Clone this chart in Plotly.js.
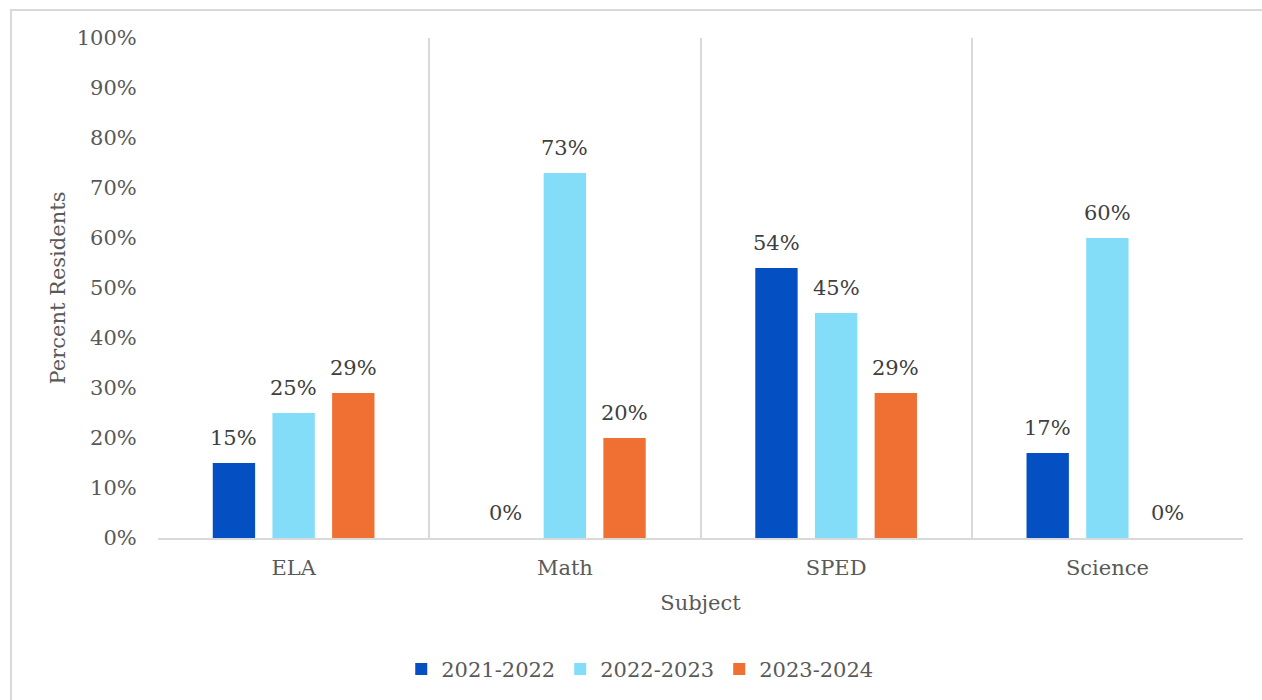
<!DOCTYPE html>
<html><head><meta charset="utf-8">
<script src="https://cdn.plot.ly/plotly-3.0.1.min.js"></script>
<style>
html,body{margin:0;padding:0;background:#fff;overflow:hidden;}
#frame{position:absolute;left:10px;top:9px;width:1262px;height:700px;border:2px solid #d9d9d9;box-sizing:border-box;}
#chart{position:absolute;left:0;top:0;width:1262px;height:700px;}
</style></head>
<body>
<div id="frame"></div>
<div id="chart"></div>
<script>
const subjects = ["ELA", "Math", "SPED", "Science"];
const series = ["2021-2022", "2022-2023", "2023-2024"];
const v2122 = [0.15, 0.00, 0.54, 0.17];
const v2223 = [0.25, 0.73, 0.45, 0.60];
const v2324 = [0.29, 0.20, 0.29, 0.00];
const colors = ["#0450C2", "#83DDF9", "#F07034"];
const yTicks = [0,0.1,0.2,0.3,0.4,0.5,0.6,0.7,0.8,0.9,1.0];

const FONT = "Georgia, 'DejaVu Serif', serif";
const TXT = "#595959";
const FS = 21;
const vals = [v2122, v2223, v2324];
const BARGAP = 0.34;
const traces = series.map((name, i) => ({
  type: "bar", name: name, x: subjects, y: vals[i],
  marker: {color: colors[i]},
  hoverinfo: "none"
}));

// data labels placed above each bar, positioned via the axis scales
const slot = (1 - BARGAP) / series.length;
const annotations = [];
vals.forEach((arr, i) => {
  arr.forEach((v, j) => {
    annotations.push({
      x: j + (i - (series.length - 1) / 2) * slot, y: v, xref: "x", yref: "y",
      text: Math.round(v * 100) + "%", showarrow: false,
      yanchor: "bottom", yshift: 11,
      font: {family: FONT, size: FS, color: "#404040"}
    });
  });
});

const layout = {
  width: 1262, height: 700,
  paper_bgcolor: "rgba(0,0,0,0)", plot_bgcolor: "rgba(0,0,0,0)",
  margin: {l: 158, r: 19, t: 38, b: 162},
  font: {family: FONT, color: TXT, size: FS},
  barmode: "group", bargap: BARGAP, bargroupgap: 0.29,
  showlegend: true,
  annotations: annotations,
  legend: {orientation: "h", xref: "paper", x: 0.444, xanchor: "center",
           yref: "container", y: 0.073, yanchor: "top",
           font: {family: FONT, size: FS, color: TXT}, traceorder: "normal", itemwidth: 30},
  xaxis: {
    type: "category", tickson: "boundaries", showgrid: true, gridcolor: "#d9d9d9", gridwidth: 2,
    showline: true, linecolor: "#d9d9d9", linewidth: 2, automargin: false,
    ticks: "", ticklabelstandoff: 10,
    tickfont: {family: FONT, size: FS, color: TXT},
    title: {text: "Subject", font: {family: FONT, size: FS, color: TXT}, standoff: 16},
    range: [-0.5, 3.5], fixedrange: true
  },
  yaxis: {
    range: [0, 1], tickvals: yTicks, tickformat: ".0%", showgrid: false, zeroline: false,
    showline: false, ticks: "outside", ticklen: 16, tickcolor: "rgba(0,0,0,0)", automargin: false,
    tickfont: {family: FONT, size: FS, color: TXT},
    title: {text: "Percent Residents", font: {family: FONT, size: FS, color: TXT}, standoff: 5},
    fixedrange: true
  }
};
Plotly.newPlot("chart", traces, layout, {displayModeBar: false, staticPlot: true});
</script>
</body></html>
